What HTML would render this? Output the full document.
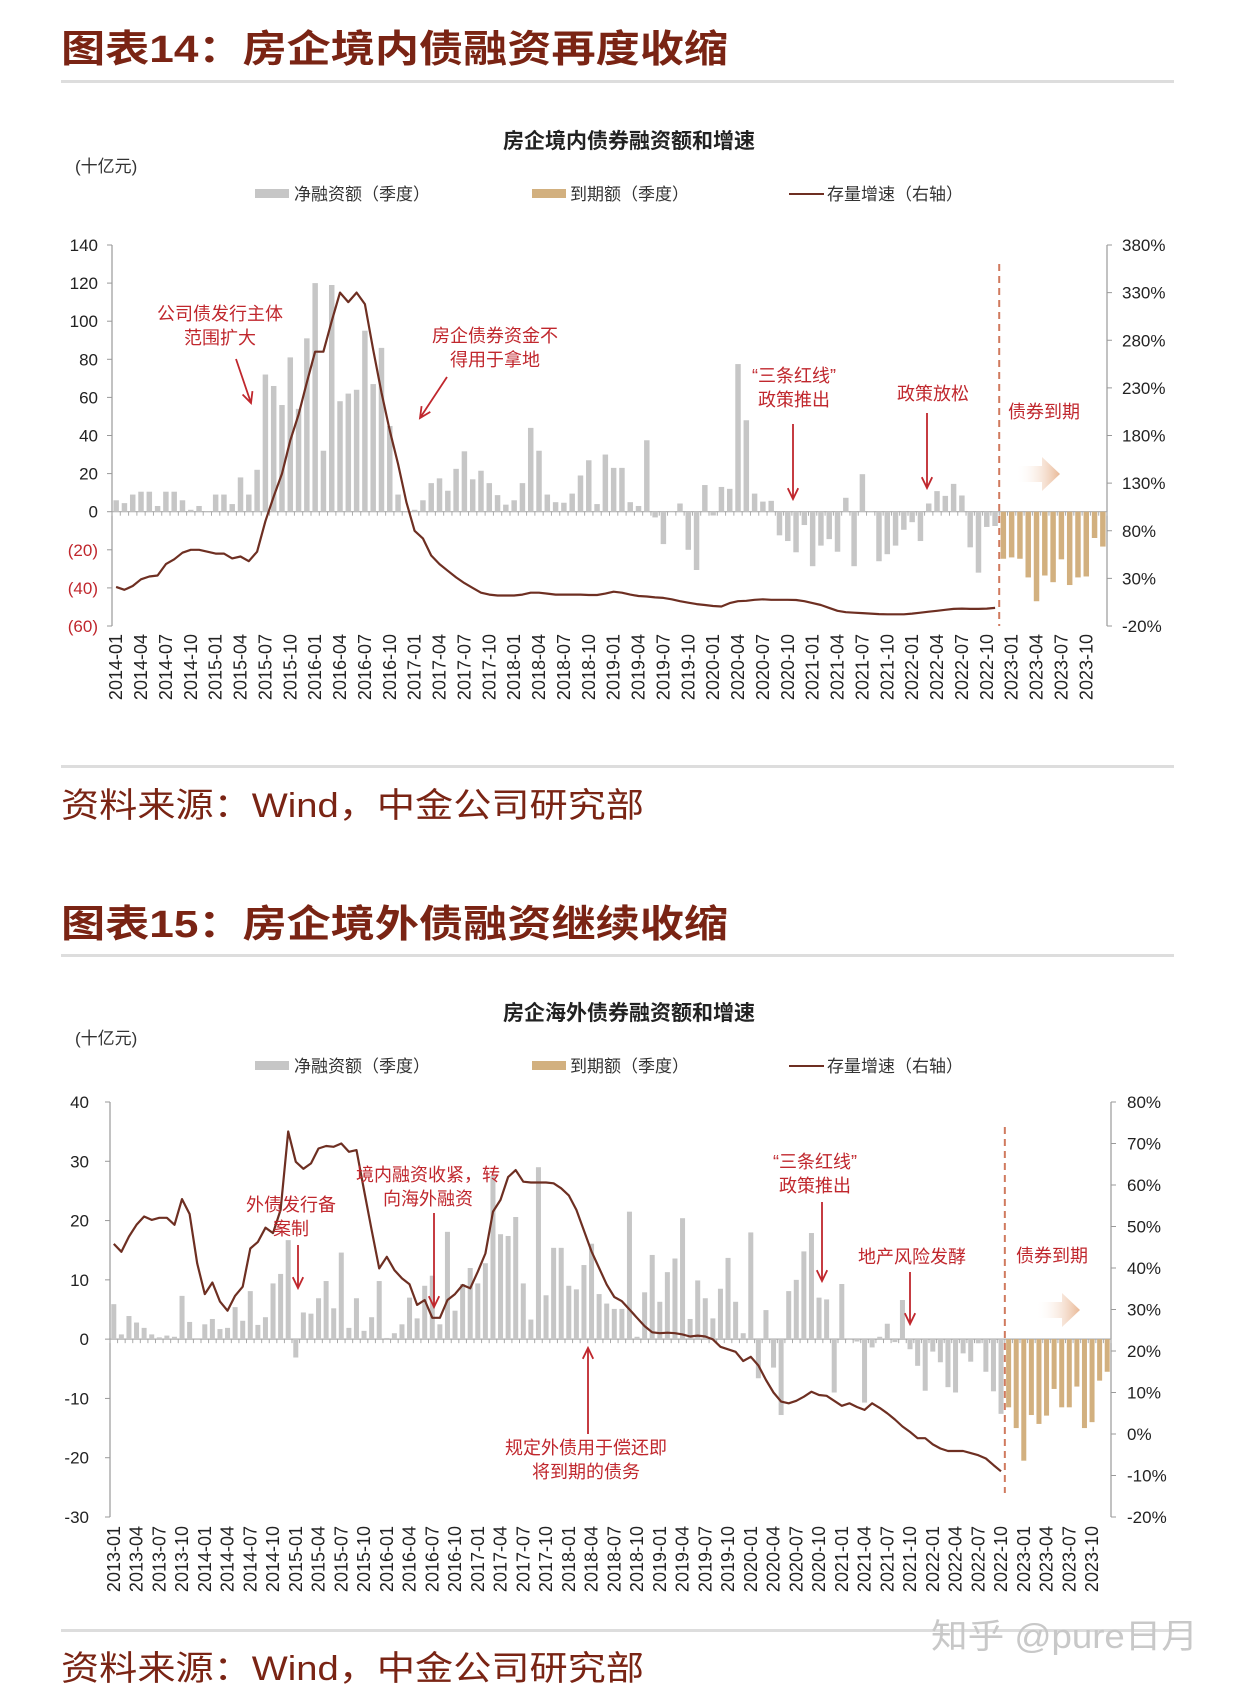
<!DOCTYPE html>
<html><head><meta charset="utf-8">
<style>
html,body{margin:0;padding:0;background:#fff;}
svg{display:block;font-family:"Liberation Sans","Noto Sans CJK SC",sans-serif;}
</style></head>
<body>
<svg id="root" width="1242" height="1690" viewBox="0 0 1242 1690" xmlns="http://www.w3.org/2000/svg">
<defs>
<linearGradient id="fadeArrow" x1="0" x2="1" y1="0" y2="0">
<stop offset="0" stop-color="#fff" stop-opacity="0"/>
<stop offset="1" stop-color="#e9b896"/>
</linearGradient>
</defs>
<text x="61" y="62" font-size="38" font-weight="bold" fill="#7a2414" textLength="667" lengthAdjust="spacingAndGlyphs">图表14：房企境内债融资再度收缩</text>
<rect x="61" y="80" width="1113" height="3" fill="#dddddd"/>
<rect x="61" y="765" width="1113" height="3" fill="#dddddd"/>
<text x="61" y="817" font-size="34" fill="#7a2414" textLength="583" lengthAdjust="spacingAndGlyphs">资料来源：Wind，中金公司研究部</text>
<text x="61" y="937" font-size="38" font-weight="bold" fill="#7a2414" textLength="667" lengthAdjust="spacingAndGlyphs">图表15：房企境外债融资继续收缩</text>
<rect x="61" y="954" width="1113" height="3" fill="#dddddd"/>
<rect x="61" y="1629" width="1113" height="3" fill="#dddddd"/>
<text x="61" y="1680" font-size="34" fill="#7a2414" textLength="583" lengthAdjust="spacingAndGlyphs">资料来源：Wind，中金公司研究部</text>
<text x="931" y="1648" font-size="34" fill="#c8c8c8" textLength="267" lengthAdjust="spacingAndGlyphs">知乎 @pure日月</text>
<g id="chart1"></g>
<g id="chart2"></g>
</svg>
<script>
// ---------- Chart 1 data (monthly, 2014-01 .. 2023-12) ----------
const c1NetFinancing = [6,4.5,9,10.5,10.5,3,10.5,10.5,6,1,3,0,9,9,4,18,9,22,72,66,56,81,54,91,120,32,119,58,62,64,95,67,86,45,9,0,1,6,15,17.5,11,22.5,31.7,17,21.5,15,8.7,3.7,6,15,44,32,9,5,
4.7,9.5,19,27,4,30,23,23,5,3,37.5,-3,-17,0.4,4.3,-20,-30.6,14,-2,13,12,77.5,48,9.5,5.3,5.7,-12.4,-15.4,-21.3,-7,-28.6,-17.8,-14.4,-21,7.3,-28.6,19.7,0,-26,-22.3,-17.8,-9.5,-5.5,-15.4,4.3,10.8,8.3,14.6,8.5,-18.7,-32,-8,-7.5];
const c1Maturity = [-24.7,-24,-24.7,-34.5,-47,-33.5,-37,-25,-38.5,-34.5,-34,-13.8,-18.3];
const c1Growth = [21,18,22,29,32,33,45,50,57,60,60,58,56,56,51,53,48,58,90,116,140,175,202,236,268,268,300,330,320,330,318,270,225,185,150,110,80,72,54,45,38,31,25,20,15,13,12,12,12,13,15,15,14,13,13,
13,13,12.5,12.5,14,16,15,13,11.5,11,10,9.5,8,6,4.5,3,2,1,0.5,4,6,6.5,7.5,8,7.5,7.5,7.5,7.3,6,4,2,-1,-4,-5.5,-6,-6.5,-7,-7.5,-7.7,-7.7,-7.7,-7,-6,-5,-4,-3,-2,-1.7,-2,-2,-1.7,-1];
const c1LeftTicks = [140,120,100,80,60,40,20,0,-20,-40,-60];
const c1LeftTickLabels = ["140","120","100","80","60","40","20","0","(20)","(40)","(60)"];
const c1RightTicks = [380,330,280,230,180,130,80,30,-20];
// ---------- Chart 2 data (monthly, 2013-01 .. 2023-12) ----------
const c2NetFinancing = [5.9,0.8,3.9,2.8,1.9,0.8,0.3,0.6,0.4,7.3,2.9,0,2.5,3.4,1.7,1.9,5.4,3.1,8.1,2.4,3.7,9.4,11,16.7,-3.1,4.5,4.3,6.9,9.8,5.2,14.6,1.9,6.9,1.4,3.7,9.8,0.2,1,2.5,7,3.5,9,10.7,2.5,18.1,4.8,9.3,12,9.4,12.8,27.5,17.7,17.4,20.6,9.4,3.3,29,7.4,15.4,15.4,
9,8.4,12.5,16.1,7.6,6,5.1,5.1,21.5,0.4,7.9,14.2,6.3,11.3,13.6,20.4,3.4,9.9,6.9,3.5,8.5,13.7,6.3,1,18,-6.6,4.9,-4.8,-12.8,8.1,10,14.8,17.9,7,6.7,-9,9.3,0,-0.4,-10.7,-1.4,0.4,2.6,-0.5,6.6,-1.7,-4.5,-8.7,-2.1,-3.9,-8.1,-9,-2.4,-3.8,-0.7,-5.5,-8.8,-12.6];
const c2Maturity = [-11.5,-15,-20.5,-12.8,-14.3,-12.9,-8.4,-11.5,-11.5,-8,-15,-14,-7,-5.5];
const c2Growth = [45.8,43.9,47.6,50.4,52.4,51.6,52.1,52.1,50.4,56.6,53,41.1,33.7,36.5,31.9,29.7,33.3,35.5,44.7,46.3,49.7,48.4,54,72.9,65.6,63.9,65.2,68.8,69.4,69.2,70,68,68.4,58.8,49.2,39.9,42.7,39.5,37.5,36.1,31.1,32.3,28,28,32.3,33.7,35.9,35.1,39.1,43.5,53.6,56.4,61.9,63.6,60.8,60.6,60.6,60.6,60.4,59.2,
57.5,54,49,44,40,36,33,32,30,28,26,24.5,24.3,24.4,24.3,24,23.5,23.7,23.5,22.8,21,20.4,19.8,17.6,18.6,16.5,13,10,7.8,7.4,8,9,10.2,9.4,9.2,8,6.8,7.4,6.5,5.8,7.4,6.3,5,3.5,1.8,0.5,-1,-1,-2.5,-3.5,-4.1,-4.1,-4.1,-4.6,-5.1,-5.9,-7.5,-9];
const c2LeftTicks = [40,30,20,10,0,-10,-20,-30];
const c2LeftTickLabels = ["40","30","20","10","0","-10","-20","-30"];
const c2RightTicks = [80,70,60,50,40,30,20,10,0,-10,-20];

const NS = "http://www.w3.org/2000/svg";
function mk(parent, tag, attrs, txt) {
  const e = document.createElementNS(NS, tag);
  for (const k in attrs) e.setAttribute(k, attrs[k]);
  if (txt !== undefined) e.textContent = txt;
  parent.appendChild(e);
  return e;
}
const RED = "#c0272d", GRAY = "#c6c6c6", TAN = "#d2b07f", LINE = "#6e2f22";

function drawChart(g, cfg) {
  const n = cfg.nMonths;
  const bw = (cfg.x1 - cfg.x0) / n;
  const xC = i => cfg.x0 + (i + 0.5) * bw;
  const yL = v => cfg.yTop + (cfg.lMax - v) / (cfg.lMax - cfg.lMin) * (cfg.yBot - cfg.yTop);
  const yR = v => cfg.yTop + (cfg.rMax - v) / (cfg.rMax - cfg.rMin) * (cfg.yBot - cfg.yTop);
  let t;
  t = mk(g, "text", {x: cfg.titleX, y: cfg.titleY, "font-size": 21, "font-weight": "bold", "text-anchor": "middle", fill: "#222"}, cfg.title);
  
  
  t = mk(g, "text", {x: 75, y: cfg.titleY + 24, "font-size": 17, fill: "#333"}, "(十亿元)");
  
  
  const ly = cfg.legendY;
  let s = mk(g, "rect", {x: 255, y: ly - 11, width: 34, height: 9, fill: GRAY});
  
  
  t = mk(g, "text", {x: 294, y: ly, "font-size": 17, fill: "#333"}, "净融资额（季度）");
  
  
  s = mk(g, "rect", {x: 532, y: ly - 11, width: 34, height: 9, fill: TAN});
  
  
  t = mk(g, "text", {x: 570, y: ly, "font-size": 17, fill: "#333"}, "到期额（季度）");
  
  
  s = mk(g, "line", {x1: 789, x2: 824, y1: ly - 6, y2: ly - 6, stroke: LINE, "stroke-width": 2});
  
  
  t = mk(g, "text", {x: 827, y: ly, "font-size": 17, fill: "#333"}, "存量增速（右轴）");
  
  

  let a = mk(g, "line", {x1: cfg.x0, x2: cfg.x0, y1: cfg.yTop, y2: cfg.yBot, stroke: "#999", "stroke-width": 1.2});
  
  
  a = mk(g, "line", {x1: cfg.x1, x2: cfg.x1, y1: cfg.yTop, y2: cfg.yBot, stroke: "#999", "stroke-width": 1.2});
  
  
  cfg.lTicks.forEach((v, i) => {
    const y = yL(v);
    mk(g, "line", {x1: cfg.x0 - 5, x2: cfg.x0, y1: y, y2: y, stroke: "#999"});
    const lb = mk(g, "text", {x: cfg.lLabelX, y: y + 6, "font-size": 17, "text-anchor": "end", fill: (cfg.redNeg && v < 0) ? RED : "#222"}, cfg.lLabels[i]);
    
    
  });
  cfg.rTicks.forEach(v => {
    const y = yR(v);
    mk(g, "line", {x1: cfg.x1, x2: cfg.x1 + 5, y1: y, y2: y, stroke: "#999"});
    const lb = mk(g, "text", {x: cfg.rLabelX, y: y + 6, "font-size": 17, fill: "#222"}, v + "%");
    
    
  });
  const z = yL(0);
  a = mk(g, "line", {x1: cfg.x0, x2: cfg.x1, y1: z, y2: z, stroke: "#aaa", "stroke-width": 1.2});
  
  
  for (let i = 0; i <= n; i++) {
    mk(g, "line", {x1: cfg.x0 + i * bw, x2: cfg.x0 + i * bw, y1: z, y2: z + 4, stroke: "#aaa"});
  }
  const bwid = bw * 0.66;
  cfg.net.forEach((v, i) => {
    const y = yL(Math.max(v, 0)), h = Math.abs(yL(v) - z);
    const r = mk(g, "rect", {x: xC(i) - bwid / 2, y: y, width: bwid, height: Math.max(h, 0.5), fill: GRAY});
    
    
  });
  cfg.mat.forEach((v, j) => {
    const i = cfg.net.length + j;
    const y = yL(Math.max(v, 0)), h = Math.abs(yL(v) - z);
    const r = mk(g, "rect", {x: xC(i) - bwid / 2, y: y, width: bwid, height: h, fill: TAN});
    
    
  });
  const pts = cfg.growth.map((v, i) => xC(i).toFixed(1) + "," + yR(v).toFixed(1)).join(" ");
  const pl = mk(g, "polyline", {points: pts, fill: "none", stroke: LINE, "stroke-width": 2.2, "stroke-linejoin": "round"});
  
  
  const dx = cfg.x0 + cfg.net.length * bw;
  const dl = mk(g, "line", {x1: dx, x2: dx, y1: cfg.dashTop, y2: cfg.dashBot, stroke: "#d07a5e", "stroke-width": 2, "stroke-dasharray": "7,5"});
  
  
  for (let i = 0; i < n; i += 3) {
    const yr = cfg.startYear + Math.floor(i / 12);
    const mo = (i % 12) + 1;
    const lab = yr + "-" + (mo < 10 ? "0" + mo : mo);
    const x = xC(i) + 6;
    const lb = mk(g, "text", {x: x, y: cfg.xLabelTop, "font-size": 18, "text-anchor": "end", fill: "#222", transform: "rotate(-90 " + x + " " + cfg.xLabelTop + ")"}, lab);
    
    
  }
  cfg.notes.forEach(nt => {
    nt.lines.forEach((ln, k) => {
      const tx = mk(g, "text", {x: nt.x, y: nt.y + k * 24, "font-size": 18, "text-anchor": "middle", fill: RED}, ln);
      
      
    });
  });
  cfg.arrows.forEach(ar => {
    const [x1, y1, x2, y2] = ar;
    const ang = Math.atan2(y2 - y1, x2 - x1);
    const L = 12, w = 0.45;
    const p1 = [x2 - L * Math.cos(ang - w), y2 - L * Math.sin(ang - w)];
    const p2 = [x2 - L * Math.cos(ang + w), y2 - L * Math.sin(ang + w)];
    const ap = mk(g, "path", {d: `M${x1},${y1}L${x2},${y2}M${p1[0]},${p1[1]}L${x2},${y2}L${p2[0]},${p2[1]}`, stroke: RED, "stroke-width": 1.8, fill: "none"});
    
    
  });
  const fa = cfg.fadeArrow;
  const fp = mk(g, "polygon", {points: `${fa[0]},${fa[1]-8} ${fa[0]+26},${fa[1]-8} ${fa[0]+26},${fa[1]-17} ${fa[0]+44},${fa[1]} ${fa[0]+26},${fa[1]+17} ${fa[0]+26},${fa[1]+8} ${fa[0]},${fa[1]+8}`, fill: "url(#fadeArrow)"});
  
  
}

drawChart(document.getElementById("chart1"), {
  title: "房企境内债券融资额和增速", titleX: 629, titleY: 148, legendY: 200,
  nMonths: 120, startYear: 2014, x0: 112, x1: 1107, yTop: 245, yBot: 626,
  lMax: 140, lMin: -60, rMax: 380, rMin: -20,
  lTicks: c1LeftTicks, lLabels: c1LeftTickLabels, rTicks: c1RightTicks, redNeg: true,
  lLabelX: 98, rLabelX: 1122, xLabelTop: 634,
  net: c1NetFinancing, mat: c1Maturity, growth: c1Growth,
  dashTop: 264, dashBot: 626,
  notes: [
    {x: 220, y: 320, lines: ["公司债发行主体", "范围扩大"]},
    {x: 495, y: 342, lines: ["房企债券资金不", "得用于拿地"]},
    {x: 794, y: 382, lines: ["“三条红线”", "政策推出"]},
    {x: 933, y: 400, lines: ["政策放松"]},
    {x: 1044, y: 418, lines: ["债券到期"]}
  ],
  arrows: [[236, 359, 251, 403], [447, 377, 420, 418], [793, 424, 793, 499], [927, 413, 927, 488]],
  fadeArrow: [1016, 474]
});

drawChart(document.getElementById("chart2"), {
  title: "房企海外债券融资额和增速", titleX: 629, titleY: 1020, legendY: 1072,
  nMonths: 132, startYear: 2013, x0: 110, x1: 1111, yTop: 1102, yBot: 1517,
  lMax: 40, lMin: -30, rMax: 80, rMin: -20,
  lTicks: c2LeftTicks, lLabels: c2LeftTickLabels, rTicks: c2RightTicks, redNeg: false,
  lLabelX: 89, rLabelX: 1127, xLabelTop: 1526,
  net: c2NetFinancing, mat: c2Maturity, growth: c2Growth,
  dashTop: 1127, dashBot: 1493,
  notes: [
    {x: 291, y: 1211, lines: ["外债发行备", "案制"]},
    {x: 428, y: 1181, lines: ["境内融资收紧，转", "向海外融资"]},
    {x: 815, y: 1168, lines: ["“三条红线”", "政策推出"]},
    {x: 912, y: 1263, lines: ["地产风险发酵"]},
    {x: 1052, y: 1262, lines: ["债券到期"]},
    {x: 586, y: 1454, lines: ["规定外债用于偿还即", "将到期的债务"]}
  ],
  arrows: [[298, 1245, 298, 1288], [434, 1213, 434, 1307], [822, 1202, 822, 1281], [910, 1272, 910, 1324], [588, 1434, 588, 1348]],
  fadeArrow: [1036, 1310]
});
</script>
</body></html>
